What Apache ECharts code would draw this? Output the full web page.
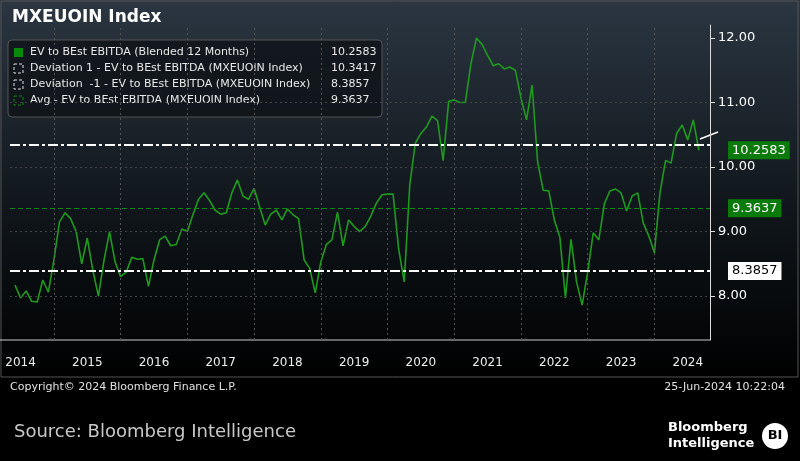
<!DOCTYPE html>
<html><head><meta charset="utf-8">
<script src="https://cdn.jsdelivr.net/npm/echarts@6/dist/echarts.min.js"></script>
<style>html,body{margin:0;padding:0;background:#000}#c{width:800px;height:461px}</style>
</head><body><div id="c"></div>
<script>
const values = [8.17,7.97,8.08,7.92,7.91,8.25,8.06,8.56,9.15,9.29,9.2,9.0,8.5,8.9,8.4,8.0,8.55,9.0,8.53,8.3,8.37,8.6,8.57,8.58,8.15,8.56,8.87,8.93,8.78,8.8,9.04,9.0,9.26,9.5,9.6,9.48,9.33,9.27,9.29,9.6,9.8,9.55,9.5,9.67,9.38,9.1,9.27,9.33,9.18,9.35,9.26,9.2,8.56,8.43,8.05,8.53,8.8,8.87,9.3,8.78,9.18,9.08,9.0,9.08,9.24,9.44,9.57,9.58,9.58,8.73,8.22,9.72,10.37,10.52,10.62,10.79,10.72,10.1,11.02,11.04,11.0,11.0,11.6,12.0,11.9,11.73,11.57,11.6,11.52,11.55,11.5,11.07,10.73,11.27,10.08,9.64,9.63,9.18,8.91,7.97,8.88,8.22,7.86,8.37,8.98,8.87,9.43,9.63,9.66,9.6,9.32,9.55,9.6,9.13,8.93,8.67,9.6,10.1,10.06,10.52,10.65,10.42,10.73,10.2583];
const years = [2014,2015,2016,2017,2018,2019,2020,2021,2022,2023,2024];
const legendNames = ['EV to BEst EBITDA (Blended 12 Months)','Deviation 1 - EV to BEst EBITDA (MXEUOIN Index)','Deviation  -1 - EV to BEst EBITDA (MXEUOIN Index)','Avg - EV to BEst EBITDA (MXEUOIN Index)'];
const legendVals = ['10.2583','10.3417','8.3857','9.3637'];
const devHi = 10.3417, devLo = 8.3857, avg = 9.3637, last = 10.2583;

const endIdx = 128;
const startIdx = endIdx - values.length + 1;
const pts = values.map((v,i)=>[startIdx+i, v]);
const labelPos = years.map((y,i)=> i===10 ? 126 : i*12+6);

const chart = echarts.init(document.getElementById('c'));
const font = 'DejaVu Sans';
const lg = [];
lg.push({type:'rect',shape:{x:8,y:40,width:374,height:77,r:4},style:{fill:'rgba(15,20,25,0.85)',stroke:'#555',lineWidth:1}});
legendNames.forEach((n,i)=>{
  const y = 47+i*16;
  if(i===0) lg.push({type:'rect',shape:{x:14,y:y+1,width:9,height:9},style:{fill:'#0a8a0a'}});
  else lg.push({type:'rect',shape:{x:14,y:y+1,width:9,height:9},style:{fill:'none',stroke:i===3?'#0a8a0a':'#ddd',lineDash:[3,2],lineWidth:1}});
  lg.push({type:'text',x:30,y:y,style:{text:n,fill:'#e8e8e8',font:'11px '+font}});
  lg.push({type:'text',x:331,y:y,style:{text:legendVals[i],fill:'#e8e8e8',font:'11px '+font}});
});
function tag(v, bg, fg){
  return {yAxis:v, lineStyle:{color:'rgba(0,0,0,0)',width:0}, label:{show:true,position:'end',formatter:v.toFixed(4),backgroundColor:bg,color:fg,padding:[3,4,2,4],fontSize:13,fontFamily:font,distance:18}};
}
chart.setOption({
  backgroundColor:'#000',
  animation:false,
  graphic:[
    {type:'rect',shape:{x:0,y:0,width:800,height:378},style:{fill:new echarts.graphic.LinearGradient(0,0,0,1,[{offset:0,color:'#2b3642'},{offset:0.55,color:'#10161b'},{offset:1,color:'#000'}])},z:-10},
    {type:'rect',shape:{x:1,y:1,width:797,height:376},style:{fill:'none',stroke:'#555',lineWidth:1},z:-9},
    {type:'text',x:12,y:9,style:{text:'MXEUOIN Index',fill:'#fff',font:'bold 17px '+font}},
    ...lg,
    {type:'line',shape:{x1:0,y1:340,x2:710,y2:340},style:{stroke:'#ccc',lineWidth:1}},
    {type:'line',shape:{x1:700,y1:139,x2:718,y2:132},style:{stroke:'#fff',lineWidth:1.5}},
    {type:'text',x:10,y:382,style:{text:'Copyright© 2024 Bloomberg Finance L.P.',fill:'#e0e0e0',font:'11px '+font}},
    {type:'text',x:785,y:382,style:{text:'25-Jun-2024 10:22:04',fill:'#e0e0e0',font:'11px '+font,align:'right'}},
    {type:'text',x:14,y:423,style:{text:'Source: Bloomberg Intelligence',fill:'#c8c8c8',font:'18px '+font}},
    {type:'text',x:668,y:420,style:{text:'Bloomberg\nIntelligence',fill:'#fff',font:'bold 13px '+font,lineHeight:16}},
    {type:'circle',shape:{cx:775,cy:436,r:13},style:{fill:'#fff'}},
    {type:'text',x:775,y:436,style:{text:'BI',fill:'#000',font:'bold 13px '+font,align:'center',verticalAlign:'middle'}}
  ],
  grid:{left:10,right:90,top:25,bottom:121},
  xAxis:{type:'value',min:4.1,max:130,
    axisLine:{show:false},axisTick:{show:false},splitLine:{show:false},
    axisLabel:{customValues:labelPos,formatter:v=>String(2014+Math.floor(v/12)),color:'#eee',fontSize:12,fontFamily:font,margin:17}},
  yAxis:{type:'value',position:'right',min:7.32,max:12.2,interval:1,
    axisLine:{show:true,lineStyle:{color:'#ddd'}},
    axisTick:{show:true,customValues:[8,9,10,11,12],length:5,lineStyle:{color:'#ddd'}},
    axisLabel:{customValues:[8,9,10,11,12],formatter:v=>v.toFixed(2),color:'#fff',fontSize:13,fontFamily:font,margin:8},
    splitLine:{show:false}},
  series:[{
    type:'line',data:pts,showSymbol:false,lineStyle:{color:'#1f9a1f',width:1.6},
    markLine:{symbol:'none',silent:true,animation:false,data:[
      ...[12,24,36,48,60,72,84,96,108,120].map(x=>({xAxis:x,lineStyle:{color:'#555',type:[2,3],width:1},label:{show:false}})),
      ...[8,9,10,11].map(v=>({yAxis:v,lineStyle:{color:'#444',type:[2,3],width:1},label:{show:false}})),
      {yAxis:devHi,lineStyle:{color:'#fff',type:[10,3,3,3],width:2},label:{show:false}},
      {yAxis:devLo,lineStyle:{color:'#fff',type:[10,3,3,3],width:2},label:{show:false}},
      {yAxis:avg,lineStyle:{color:'#108a10',type:[5,3],width:1},label:{show:false}},
      tag(last,'#0a7a0a','#fff'), tag(avg,'#0a7a0a','#fff'), tag(devLo,'#fff','#000')
    ]}
  }]
});
</script></body></html>
